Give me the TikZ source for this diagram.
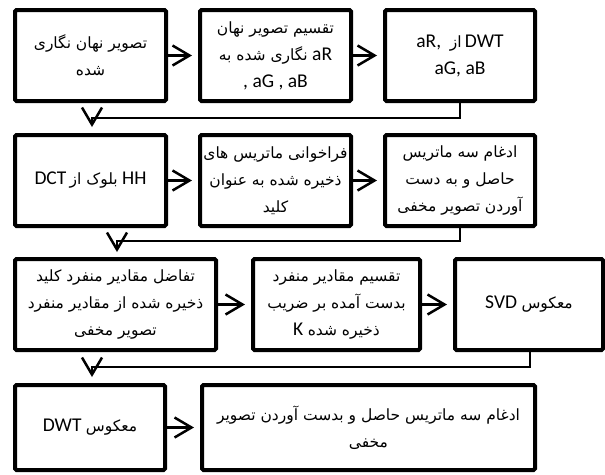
\documentclass[tikz,border=0pt]{standalone}
\usepackage{fontspec}
\setmainfont{Carlito}
\newfontfamily\arfont[Script=Arabic]{DejaVu Sans}
\TeXXeTstate=1
\usetikzlibrary{arrows.meta}
\newcommand\AR[1]{{\arfont\fontsize{15.5}{27}\selectfont\beginR #1\endR}}
\newcommand\LT[1]{\beginL{\normalfont\fontsize{19.5}{27}\selectfont #1}\endL}
\begin{document}
\begin{tikzpicture}[x=1pt,y=-1pt,
  box/.style={draw, line width=4pt, rounded corners=1.5pt, inner sep=0pt,
    align=center, font=\fontsize{19.5}{27}\selectfont},
  conn/.style={line width=2.5pt, -{Straight Barb[length=17pt,width=20pt,line width=2.5pt]}},
  harr/.style={conn, shorten >=6pt}]
\useasboundingbox (0,0) rectangle (605,474);
% row 1
\node[box, minimum width=151pt, minimum height=91pt] (a1) at (90.5,55.5)
  {\AR{تصویر نهان نگاری}\\\AR{شده}};
\node[box, minimum width=151pt, minimum height=91pt] (b1) at (275.5,55.5)
  {\AR{تقسیم تصویر نهان}\\\AR{نگاری شده به}\ \LT{aR}\\\LT{, aG , aB}};
\node[box, minimum width=150pt, minimum height=91pt] (c1) at (460,55.5)
  {\LT{aR,}\ \ \AR{از}\,\LT{DWT}\\\LT{aG, aB}};
% row 2
\node[box, minimum width=151pt, minimum height=91pt] (a2) at (90.5,180.5)
  {\LT{DCT}\,\AR{بلوک از}\ \LT{HH}};
\node[box, minimum width=151pt, minimum height=91pt] (b2) at (275.5,180.5)
  {\AR{فراخوانی ماتریس های}\\\AR{ذخیره شده به عنوان}\\\AR{کلید}};
\node[box, minimum width=150pt, minimum height=91pt] (c2) at (460,180.5)
  {\AR{ادغام سه ماتریس}\\\AR{حاصل و به دست}\\\AR{آوردن تصویر مخفی}};
% row 3
\node[box, minimum width=201pt, minimum height=91pt] (a3) at (115.5,304.5)
  {\AR{تفاضل مقادیر منفرد کلید}\\\AR{ذخیره شده از مقادیر منفرد}\\\AR{تصویر مخفی}};
\node[box, minimum width=167pt, minimum height=91pt] (b3) at (336.5,304.5)
  {\AR{تقسیم مقادیر منفرد}\\\AR{بدست آمده بر ضریب}\\\LT{K}\ \AR{ذخیره شده}};
\node[box, minimum width=148pt, minimum height=91pt] (c3) at (529,304.5)
  {\LT{SVD}\ \AR{معکوس}};
% row 4
\node[box, minimum width=150pt, minimum height=85pt] (a4) at (90,427.5)
  {\LT{DWT}\ \AR{معکوس}};
\node[box, minimum width=333pt, minimum height=85pt] (b4) at (368.5,427.5)
  {\AR{ادغام سه ماتریس حاصل و بدست آوردن تصویر}\\\AR{مخفی}};
% tips of down arrows
\coordinate (t1) at (92,127);
\coordinate (t2) at (117,252);
\coordinate (t3) at (92,377);
% connectors
\draw[harr] (a1) -- (b1);
\draw[harr] (b1) -- (c1);
\draw[harr] (a2) -- (b2);
\draw[harr] (b2) -- (c2);
\draw[harr] (a3) -- (b3);
\draw[harr] (b3) -- (c3);
\draw[harr] (a4) -- (b4);
\draw[conn] (c1.south) -- ++(0,15) -| (t1);
\draw[conn] (c2.south) -- ++(0,13) -| (t2);
\draw[conn] ([xshift=1pt]c3.south) -- ++(0,15) -| (t3);
\end{tikzpicture}
\end{document}
